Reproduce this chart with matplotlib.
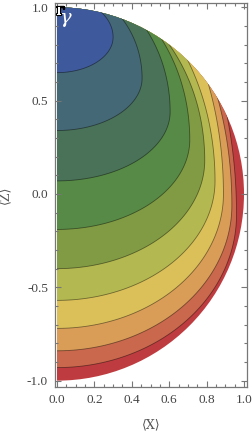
import matplotlib
matplotlib.use("Agg")
import matplotlib.pyplot as plt
import matplotlib.patheffects as pe
from matplotlib.patches import Polygon, Wedge
from matplotlib.ticker import MultipleLocator
import numpy as np

# contour lines (9 lines, 10 bands)
z_on_axis = [0.65, 0.34, 0.07, -0.19, -0.40, -0.57, -0.72, -0.84, -0.93]   # where each line meets <X>=0
x_right = [0.30, 0.455, 0.605, 0.71, 0.79, 0.845, 0.89, 0.935, 0.96]       # widest point of each line
z_right = [0.84, 0.62, 0.44, 0.29, 0.18, 0.07, 0.0, -0.06, -0.11]
x_on_circle = [0.24, 0.35, 0.48, 0.56, 0.60, 0.70, 0.81, 0.86, 0.91]       # where each line meets the unit circle
band_colors = ["#3f5a9c", "#456877", "#4a7259", "#578a46", "#809b44",
               "#b4b850", "#dbc05a", "#d99d58", "#c9684c", "#be3c40"]
x_ticks = [0.0, 0.2, 0.4, 0.6, 0.8, 1.0]
z_ticks = [-1.0, -0.5, 0.0, 0.5, 1.0]


def egg(zb, a, c, xq):
    """closed outline: lower half-ellipse from (0, zb) to (a, c), upper one up through the circle point."""
    bb = c - zb
    zq = np.sqrt(1 - xq ** 2)
    bt = (zq - c) / np.sqrt(1 - (xq / a) ** 2)
    phi_lo = np.linspace(-np.pi / 2, 0, 200)
    phi_hi = np.linspace(0, np.pi / 2, 200)
    xs = np.r_[a * np.cos(phi_lo), a * np.cos(phi_hi)]
    zs = np.r_[c + bb * np.sin(phi_lo), c + bt * np.sin(phi_hi)]
    # close the shape outside the plotted half-disk
    xs = np.r_[-0.1, xs, -0.1]
    zs = np.r_[zb, zs, c + bt]
    return np.column_stack([xs, zs])


fig = plt.figure(figsize=(2.53, 4.32), dpi=100)
ax = fig.add_axes([55 / 253, 1 - 387 / 432, 192 / 253, 384 / 432])

disk = Wedge((0, 0), 1, -90, 90, facecolor=band_colors[-1], edgecolor="none")
ax.add_patch(disk)
for k in range(len(z_on_axis) - 1, -1, -1):
    shape = Polygon(egg(z_on_axis[k], x_right[k], z_right[k], x_on_circle[k]),
                    closed=True, facecolor=band_colors[k], edgecolor=(0, 0, 0, 0.45),
                    linewidth=0.6)
    ax.add_patch(shape)
    shape.set_clip_path(disk)

ax.set_xlim(-0.0107, 1.016)
ax.set_ylim(-1.034, 1.023)

frame_col = "#777777"
for s in ax.spines.values():
    s.set_color(frame_col)
    s.set_linewidth(0.9)
ax.set_xticks(x_ticks)
ax.set_yticks(z_ticks)
ax.xaxis.set_minor_locator(MultipleLocator(0.05))
ax.yaxis.set_minor_locator(MultipleLocator(0.1))
ax.tick_params(which="both", direction="in", top=True, right=True, color=frame_col,
               labelcolor="#444444", labelsize=9.5, width=0.8)
ax.tick_params(which="major", length=4.5, pad=5)
ax.tick_params(which="minor", length=2.5)
ax.set_xticklabels([f"{t:.1f}" for t in x_ticks], family="Liberation Serif")
ax.set_yticklabels([f"{t:.1f}" for t in z_ticks], family="Liberation Serif")

ax.set_xlabel("⟨X⟩", family="DejaVu Serif", fontsize=9, color="#555555", labelpad=9)
ax.set_ylabel("⟨Z⟩", family="DejaVu Serif", fontsize=9, color="#555555", labelpad=11)

# panel label: outlined Γ with a large white γ under it
ax.text(-0.004, 0.958, "Γ", fontsize=8.5, color="white", va="baseline", ha="left",
        family="DejaVu Serif", fontweight="bold",
        path_effects=[pe.withStroke(linewidth=1.6, foreground="black")])
ax.text(0.012, 0.918, "γ", fontsize=14, color="white", va="baseline", ha="left",
        family="DejaVu Serif", style="italic")

fig.savefig("out.png", dpi=100)
